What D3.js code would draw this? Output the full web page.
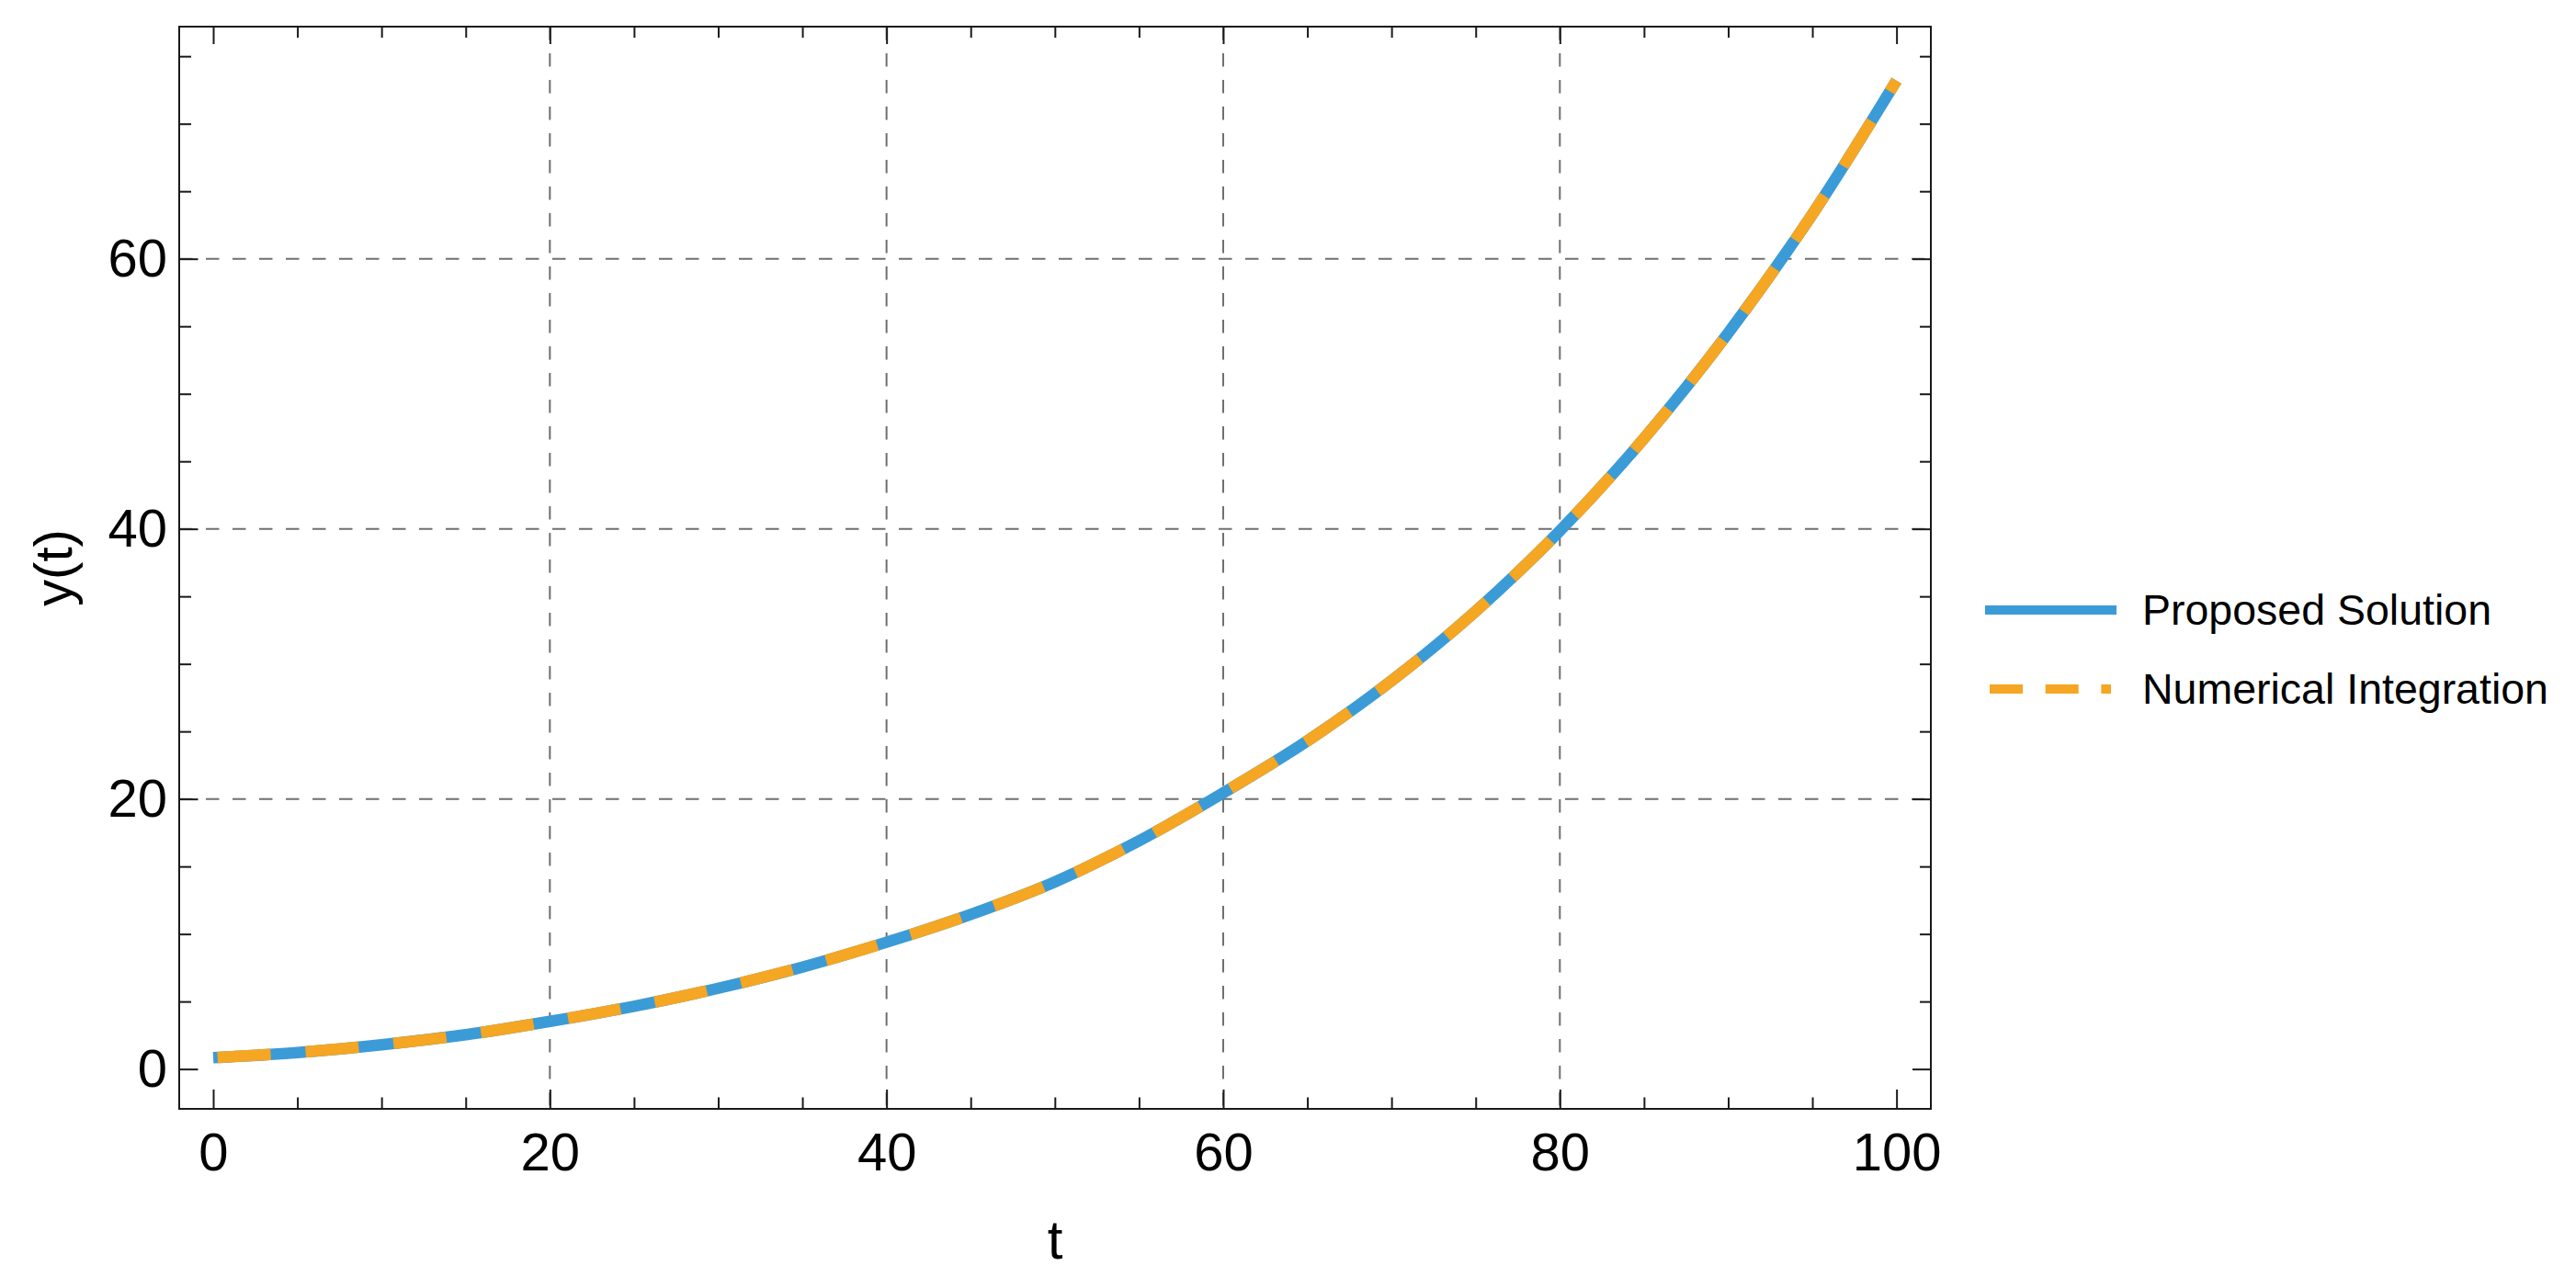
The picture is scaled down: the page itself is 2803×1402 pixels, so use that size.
<!DOCTYPE html>
<html>
<head>
<meta charset="utf-8">
<script src="https://cdn.jsdelivr.net/npm/d3@7"></script>
<style>
  html, body { margin: 0; padding: 0; background: #ffffff; }
  svg { display: block; }
  text { font-family: "Liberation Sans", Arial, Helvetica, sans-serif; fill: #000; }
</style>
</head>
<body>
<svg id="chart" width="2803" height="1402"></svg>
<script>
// ---------- data ----------
const tValues = [0, 5, 10, 15, 20, 25, 30, 35, 40, 45, 50, 55, 60, 65, 70, 75, 80, 85, 90, 95, 100];
const proposedSolution = [0.84, 1.22, 1.80, 2.54, 3.53, 4.65, 5.98, 7.55, 9.39, 11.45, 13.86, 16.9, 20.45, 24.3, 28.75, 33.9, 39.85, 46.7, 54.5, 63.3, 73.2];
const numericalIntegration = [0.84, 1.22, 1.80, 2.54, 3.53, 4.65, 5.98, 7.55, 9.39, 11.45, 13.86, 16.9, 20.45, 24.3, 28.75, 33.9, 39.85, 46.7, 54.5, 63.3, 73.2];
const seriesNames = ["Proposed Solution", "Numerical Integration"];
const xMajorTicks = [0, 20, 40, 60, 80, 100];
const xMinorTicks = [5, 10, 15, 25, 30, 35, 45, 50, 55, 65, 70, 75, 85, 90, 95];
const yMajorTicks = [0, 20, 40, 60];
const yMinorTicks = [5, 10, 15, 25, 30, 35, 45, 50, 55, 65, 70, 75];
const xGridValues = [20, 40, 60, 80];
const yGridValues = [20, 40, 60];
const xAxisTitle = "t";
const yAxisTitle = "y(t)";

// ---------- layout ----------
const frame = { left: 195, right: 2101, top: 29, bottom: 1207 };
const colors = { blue: "#3b9bd6", orange: "#f5a623", grid: "#6f6f6f", frame: "#1a1a1a" };

const svg = d3.select("#chart");

const x = d3.scaleLinear().domain([-2.02, 102.04]).range([frame.left, frame.right]);
const y = d3.scaleLinear().domain([-2.95, 77.19]).range([frame.bottom, frame.top]);

// ---------- grid ----------
const grid = svg.append("g");
grid.selectAll("line.gx").data(xGridValues).join("line")
  .attr("x1", d => x(d)).attr("x2", d => x(d))
  .attr("y1", frame.top).attr("y2", frame.bottom)
  .attr("stroke", colors.grid).attr("stroke-width", 2)
  .attr("stroke-dasharray", "14.5,14.5");
grid.selectAll("line.gy").data(yGridValues).join("line")
  .attr("x1", frame.left).attr("x2", frame.right)
  .attr("y1", d => y(d)).attr("y2", d => y(d))
  .attr("stroke", colors.grid).attr("stroke-width", 2)
  .attr("stroke-dasharray", "14.5,14.5");

// ---------- curves ----------
const line = d3.line()
  .x(d => x(d[0]))
  .y(d => y(d[1]))
  .curve(d3.curveMonotoneX);

const ptsA = tValues.map((t, i) => [t, proposedSolution[i]]);
const ptsB = tValues.map((t, i) => [t, numericalIntegration[i]]);

svg.append("path").datum(ptsA)
  .attr("d", line).attr("fill", "none")
  .attr("stroke", colors.blue).attr("stroke-width", 12.5)
  .attr("stroke-linecap", "butt");
svg.append("path").datum(ptsB)
  .attr("d", line).attr("fill", "none")
  .attr("stroke", colors.orange).attr("stroke-width", 12.5)
  .attr("stroke-dasharray", "58,38").attr("stroke-dashoffset", 91.3)
  .attr("stroke-linecap", "butt");

// ---------- frame ----------
svg.append("rect")
  .attr("x", frame.left).attr("y", frame.top)
  .attr("width", frame.right - frame.left).attr("height", frame.bottom - frame.top)
  .attr("fill", "none").attr("stroke", colors.frame).attr("stroke-width", 2);

// ---------- axes (ticks pointing inward) ----------
function styleAxis(g, fontSize) {
  g.select(".domain").remove();
  g.selectAll(".tick line").attr("stroke", colors.frame).attr("stroke-width", 2);
  g.selectAll(".tick text").attr("font-size", fontSize).attr("fill", "#000")
    .attr("font-family", '"Liberation Sans", Arial, sans-serif');
}
const fmt = d3.format("d");

// bottom major with labels
svg.append("g").attr("transform", `translate(0,${frame.bottom})`)
  .call(d3.axisBottom(x).tickValues(xMajorTicks).tickSize(-21).tickPadding(26).tickFormat(fmt))
  .call(g => styleAxis(g, 58));
// bottom minor
svg.append("g").attr("transform", `translate(0,${frame.bottom})`)
  .call(d3.axisBottom(x).tickValues(xMinorTicks).tickSize(-12.5).tickFormat(""))
  .call(g => styleAxis(g, 0));
// top major/minor (no labels)
svg.append("g").attr("transform", `translate(0,${frame.top})`)
  .call(d3.axisTop(x).tickValues(xMajorTicks).tickSize(-19).tickFormat(""))
  .call(g => styleAxis(g, 0));
svg.append("g").attr("transform", `translate(0,${frame.top})`)
  .call(d3.axisTop(x).tickValues(xMinorTicks).tickSize(-12).tickFormat(""))
  .call(g => styleAxis(g, 0));

// left major with labels
svg.append("g").attr("transform", `translate(${frame.left},0)`)
  .call(d3.axisLeft(y).tickValues(yMajorTicks).tickSize(-20.5).tickPadding(13).tickFormat(fmt))
  .call(g => styleAxis(g, 58));
svg.append("g").attr("transform", `translate(${frame.left},0)`)
  .call(d3.axisLeft(y).tickValues(yMinorTicks).tickSize(-13).tickFormat(""))
  .call(g => styleAxis(g, 0));
// right
svg.append("g").attr("transform", `translate(${frame.right},0)`)
  .call(d3.axisRight(y).tickValues(yMajorTicks).tickSize(-20).tickFormat(""))
  .call(g => styleAxis(g, 0));
svg.append("g").attr("transform", `translate(${frame.right},0)`)
  .call(d3.axisRight(y).tickValues(yMinorTicks).tickSize(-12).tickFormat(""))
  .call(g => styleAxis(g, 0));

// ---------- axis titles ----------
svg.append("text")
  .attr("x", (frame.left + frame.right) / 2).attr("y", 1370)
  .attr("text-anchor", "middle").attr("font-size", 60)
  .text(xAxisTitle);
svg.append("text")
  .attr("transform", `translate(78,${(frame.top + frame.bottom) / 2}) rotate(-90)`)
  .attr("text-anchor", "middle").attr("font-size", 58)
  .text(yAxisTitle);

// ---------- legend ----------
const legend = svg.append("g");
const legendItems = [
  { name: seriesNames[0], color: colors.blue, dash: null, y: 664, x1: 2160, x2: 2303 },
  { name: seriesNames[1], color: colors.orange, dash: "36,24.7", y: 750, x1: 2165, x2: 2297 }
];
legendItems.forEach(it => {
  const l = legend.append("line")
    .attr("x1", it.x1).attr("x2", it.x2).attr("y1", it.y).attr("y2", it.y)
    .attr("stroke", it.color).attr("stroke-width", 10);
  if (it.dash) l.attr("stroke-dasharray", it.dash);
  legend.append("text")
    .attr("x", 2331).attr("y", it.y + 16)
    .attr("font-size", 46.5)
    .text(it.name);
});
</script>
</body>
</html>
